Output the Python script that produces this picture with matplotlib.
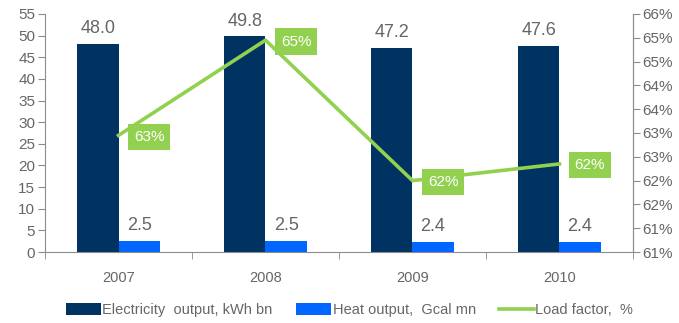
import numpy as np
import matplotlib.pyplot as plt
from matplotlib.ticker import FixedLocator

plt.rcParams['font.family'] = ['Liberation Sans', 'DejaVu Sans']

years = ["2007", "2008", "2009", "2010"]
electricity = [48.0, 49.8, 47.2, 47.6]
heat = [2.5, 2.5, 2.4, 2.4]
load_factor = [63.45, 65.45, 62.5, 62.85]
load_labels = ["63%", "65%", "62%", "62%"]
right_ticks = [61, 61.5, 62, 62.5, 63, 63.5, 64, 64.5, 65, 65.5, 66]
right_labels = ["61%", "61%", "62%", "62%", "63%", "63%", "64%", "64%", "65%", "65%", "66%"]

gray = "#8c8c8c"
txt = "#666666"
x = np.arange(len(years))
width = 0.28

fig = plt.figure(figsize=(6.79, 3.23), dpi=100)
ax1 = fig.add_axes([0.0663, 0.2198, 0.8659, 0.7369])

b1 = ax1.bar(x - width/2, electricity, width, color="#003262", label="Electricity  output, kWh bn")
b2 = ax1.bar(x + width/2, heat, width, color="#0066ff", label="Heat output,  Gcal mn")
ax1.bar_label(b1, fmt="%.1f", padding=5, fontsize=13, color=txt)
ax1.bar_label(b2, fmt="%.1f", padding=5, fontsize=13, color=txt)

ax1.set_ylim(0, 55)
ax1.set_yticks(np.arange(0, 56, 5))
ax1.set_xlim(-0.5, len(years) - 0.5)
ax1.set_xticks(x)
ax1.set_xticklabels(years)
ax1.xaxis.set_minor_locator(FixedLocator(np.arange(-0.5, len(years), 1)))
ax1.tick_params(axis="x", which="major", length=0, pad=14, labelsize=10.5, labelcolor=txt)
ax1.tick_params(axis="x", which="minor", length=5, color=gray, direction="out")
ax1.tick_params(axis="y", length=5, color=gray, labelsize=11, labelcolor=txt, pad=2)

ax1.spines["top"].set_visible(False)
for s in ["left", "bottom", "right"]:
    ax1.spines[s].set_color(gray)

ax2 = ax1.twinx()
ax2.set_ylim(61, 66)
ax2.set_yticks(right_ticks)
ax2.set_yticklabels(right_labels)
ax2.tick_params(axis="y", length=5, color=gray, labelsize=11, labelcolor=txt, pad=2)
ax2.spines["top"].set_visible(False)
ax2.spines["right"].set_color(gray)
ax2.spines["left"].set_visible(False)
ax2.spines["bottom"].set_visible(False)

line, = ax2.plot(x, load_factor, color="#92d050", linewidth=2.6, label="Load factor,  %")
for xi, yi, lab in zip(x, load_factor, load_labels):
    ax2.annotate(lab, (xi, yi), xytext=(11, -1), textcoords="offset points",
                 ha="left", va="center", fontsize=11, color="white",
                 bbox=dict(boxstyle="square,pad=0.4", fc="#92d050", ec="none"))

handles = [b1, b2, line]
fig.legend(handles, [h.get_label() for h in handles], loc="center", ncol=3,
           bbox_to_anchor=(0.515, 0.04), frameon=False, fontsize=10.5, labelcolor=txt,
           handlelength=2.4, handleheight=0.8, columnspacing=1.6, handletextpad=0.1)

fig.savefig("out.png", dpi=100)
